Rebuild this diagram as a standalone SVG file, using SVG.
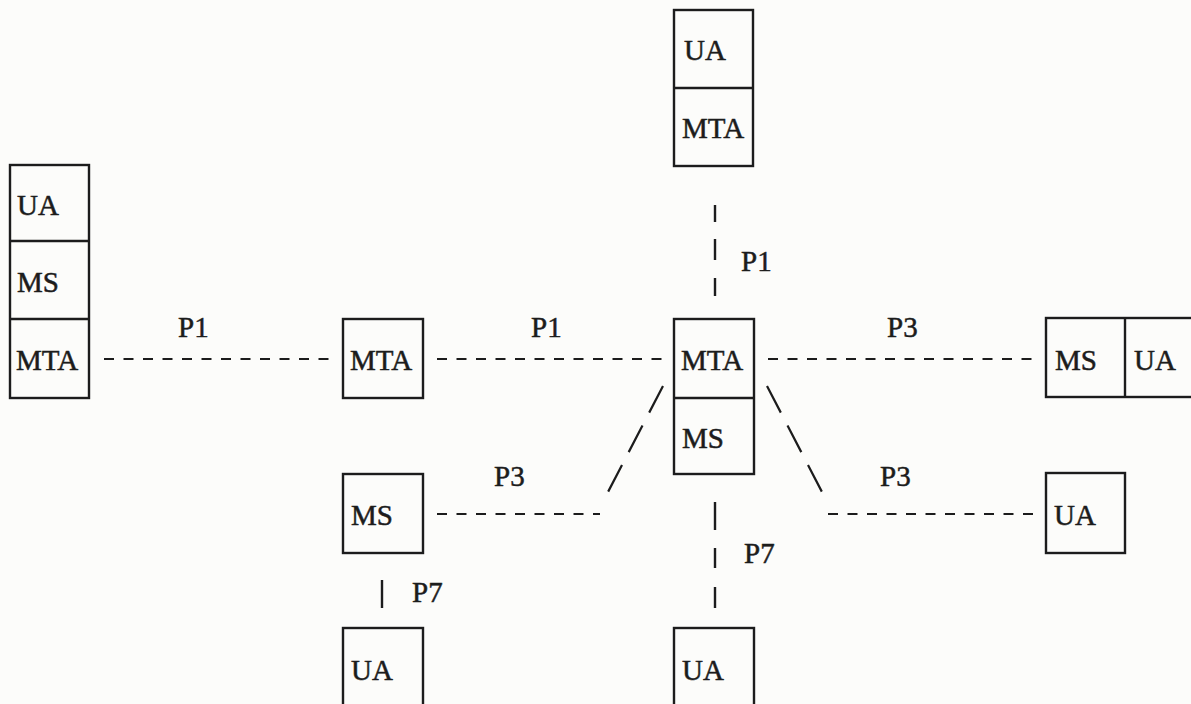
<svg xmlns="http://www.w3.org/2000/svg" width="1191" height="704" viewBox="0 0 1191 704">
  <style>
    .box { fill: none; stroke: #1c1c1c; stroke-width: 2.4; }
    .lbl { font-family: "Liberation Serif", "DejaVu Serif", serif; font-size: 29px; fill: #1c1c1c; stroke: #1c1c1c; stroke-width: 0.5; }
    .dash { stroke: #1c1c1c; stroke-width: 2.2; stroke-dasharray: 10 9.5; fill: none; }
    .diag { stroke: #1c1c1c; stroke-width: 2.2; stroke-dasharray: 30 14.5; fill: none; }
    .bar { stroke: #1c1c1c; stroke-width: 2.4; fill: none; }
  </style>
  <rect width="1191" height="704" fill="#fcfcfa"/>

  <!-- top: UA over MTA -->
  <g id="top-stack">
    <rect class="box" x="674" y="10" width="79" height="156"/>
    <line class="box" x1="674" y1="88" x2="753" y2="88"/>
    <text class="lbl" x="684" y="60">UA</text>
    <text class="lbl" x="682" y="138">MTA</text>
  </g>

  <!-- left: UA / MS / MTA -->
  <g id="left-stack">
    <rect class="box" x="10" y="165" width="79" height="233"/>
    <line class="box" x1="10" y1="241" x2="89" y2="241"/>
    <line class="box" x1="10" y1="319" x2="89" y2="319"/>
    <text class="lbl" x="17" y="215">UA</text>
    <text class="lbl" x="17" y="292">MS</text>
    <text class="lbl" x="16" y="370">MTA</text>
  </g>

  <!-- relay MTA -->
  <g id="relay-mta">
    <rect class="box" x="343" y="319" width="80" height="79"/>
    <text class="lbl" x="350" y="370">MTA</text>
  </g>

  <!-- central MTA with MS -->
  <g id="central-mta">
    <rect class="box" x="674" y="319" width="80" height="155"/>
    <line class="box" x1="674" y1="398" x2="754" y2="398"/>
    <text class="lbl" x="681" y="370">MTA</text>
    <text class="lbl" x="682" y="448">MS</text>
  </g>

  <!-- right: MS | UA -->
  <g id="right-ms-ua">
    <rect class="box" x="1046" y="318" width="160" height="79"/>
    <line class="box" x1="1125" y1="318" x2="1125" y2="397"/>
    <text class="lbl" x="1055" y="370">MS</text>
    <text class="lbl" x="1134" y="370">UA</text>
  </g>

  <!-- right UA -->
  <g id="right-ua">
    <rect class="box" x="1046" y="473" width="79" height="80"/>
    <text class="lbl" x="1054" y="525">UA</text>
  </g>

  <!-- lower-left MS -->
  <g id="lower-ms">
    <rect class="box" x="343" y="474" width="80" height="79"/>
    <text class="lbl" x="351" y="525">MS</text>
  </g>

  <!-- bottom UAs -->
  <g id="bottom-ua-left">
    <rect class="box" x="343" y="628" width="80" height="90"/>
    <text class="lbl" x="351" y="680">UA</text>
  </g>
  <g id="bottom-ua-center">
    <rect class="box" x="674" y="628" width="80" height="90"/>
    <text class="lbl" x="682" y="680">UA</text>
  </g>

  <!-- connectors -->
  <g id="connectors">
    <line class="dash" x1="104" y1="359" x2="332" y2="359"/>
    <line class="dash" x1="437" y1="359" x2="662" y2="359"/>
    <line class="dash" x1="768" y1="359" x2="1035" y2="359"/>
    <line class="dash" x1="437" y1="514" x2="600" y2="514"/>
    <line class="dash" x1="828" y1="514" x2="1035" y2="514"/>
    <line class="diag" x1="663" y1="386" x2="608" y2="492"/>
    <line class="diag" x1="767" y1="386" x2="822" y2="492"/>
    <line class="bar" x1="715" y1="205" x2="715" y2="222"/>
    <line class="bar" x1="715" y1="239" x2="715" y2="260"/>
    <line class="bar" x1="715" y1="278" x2="715" y2="296"/>
    <line class="bar" x1="715" y1="502" x2="715" y2="530"/>
    <line class="bar" x1="715" y1="548" x2="715" y2="568"/>
    <line class="bar" x1="715" y1="587" x2="715" y2="608"/>
    <line class="bar" x1="382" y1="580" x2="382" y2="608"/>
  </g>

  <!-- protocol labels -->
  <g id="labels">
    <text class="lbl" x="178" y="337">P1</text>
    <text class="lbl" x="531" y="337">P1</text>
    <text class="lbl" x="887" y="337">P3</text>
    <text class="lbl" x="741" y="271">P1</text>
    <text class="lbl" x="494" y="486">P3</text>
    <text class="lbl" x="880" y="486">P3</text>
    <text class="lbl" x="744" y="563">P7</text>
    <text class="lbl" x="412" y="602">P7</text>
  </g>
</svg>
